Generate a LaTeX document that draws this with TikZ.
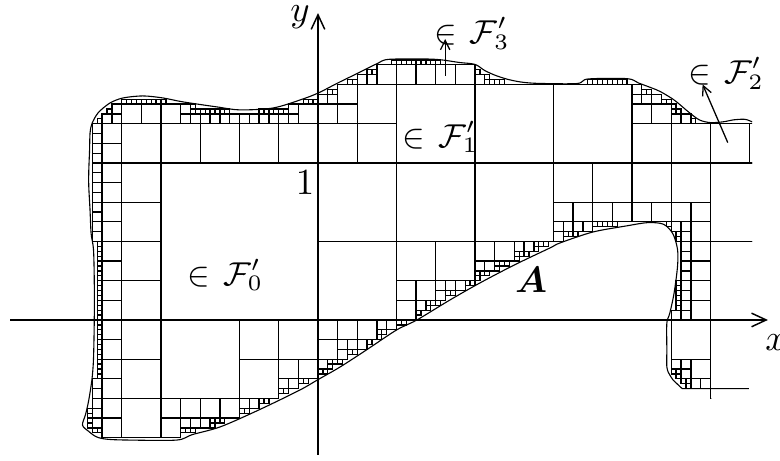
\documentclass[tikz,border=0pt]{standalone}
\usepackage{amsmath,amssymb,bm}
\usepackage{tikz}
\usetikzlibrary{arrows.meta}
\tikzset{
  cube/.style={line width=0.35pt,draw=black},
  rim/.style={line width=0.3pt,draw=black},
  axisline/.style={-{Straight Barb[length=1.4mm,width=1.3mm]},line width=0.4pt},
  pointer/.style={-{Straight Barb[length=0.9mm,width=0.9mm]},line width=0.35pt},
  lbl/.style={inner sep=0pt},
  famlbl/.style={inner sep=0pt,font=\small}
}
\makeatletter
% piecewise linear lookup: knots (x,y)(x,y)... sorted in x
\newdimen\plx \newdimen\ply
\let\pl@end\relax
\def\pl@gobble#1\pl@end{}
\def\pl@scan(#1,#2)(#3,#4){%
  \ifdim\plx>#3pt
    \def\pl@next{\pl@scan(#3,#4)}%
  \else
    \ply=\dimexpr#2pt+(#4pt-#2pt)*\number\dimexpr\plx-#1pt\relax/\number\dimexpr#3pt-#1pt\relax\relax
    \let\pl@next\pl@gobble
  \fi
  \pl@next}
\def\pleval#1#2{\plx=#2\relax\expandafter\pl@scan#1\pl@end}
% boundary of A: top T(x), left L(y), bottom B(x), hook H(y)
\def\Tknots{(-100,1.15)(-1.46,1.15)(-1.44,1.25)(-1.40,1.32)(-1.325,1.382)(-1.242,1.414)(-1.115,1.427)(-0.987,1.414)(-0.86,1.389)(-0.643,1.357)(-0.497,1.338)(-0.287,1.350)(-0.115,1.401)(0,1.445)(0.127,1.51)(0.25,1.57)(0.375,1.632)(0.45,1.66)(0.7,1.662)(0.8,1.655)(0.9,1.64)(1.0,1.628)(1.06,1.59)(1.125,1.56)(1.2,1.535)(1.29,1.516)(1.4,1.507)(1.65,1.506)(1.72,1.535)(1.97,1.537)(2.04,1.51)(2.12,1.48)(2.18,1.455)(2.27,1.40)(2.36,1.325)(2.43,1.274)(2.5,1.257)(2.58,1.262)(2.65,1.275)(2.72,1.278)(2.8,1.26)(100,1.26)}
\def\Lknots{(-100,-1.3)(-0.765,-1.3)(-0.76,-1.34)(-0.745,-1.41)(-0.71,-1.46)(-0.67,-1.50)(-0.60,-1.48)(-0.51,-1.46)(-0.38,-1.44)(-0.25,-1.43)(0.0,-1.425)(0.25,-1.425)(0.45,-1.43)(0.55,-1.445)(0.7,-1.452)(0.85,-1.46)(0.95,-1.46)(1.08,-1.455)(1.19,-1.452)(100,-1.452)}
\def\Bknots{(-100,-0.5)(-1.55,-0.6)(-1.50,-0.67)(-1.46,-0.71)(-1.41,-0.745)(-1.34,-0.76)(-1.2,-0.765)(-0.9,-0.765)(-0.80,-0.73)(-0.62,-0.68)(-0.37,-0.57)(-0.115,-0.446)(0,-0.38)(0.14,-0.30)(0.31,-0.19)(0.50,-0.064)(0.63,0.0)(0.84,0.127)(1.03,0.235)(1.25,0.35)(1.48,0.46)(1.54,0.49)(1.75,0.56)(1.97,0.60)(2.10,0.62)(2.20,0.61)(2.26,0.55)(2.29,0.45)(2.35,0.45)(100,0.45)}
\def\Hknots{(-100,2.35)(-0.5,2.35)(-0.4375,2.32)(-0.40,2.28)(-0.38,2.26)(-0.34,2.235)(-0.30,2.222)(-0.19,2.222)(-0.02,2.222)(0.04,2.24)(0.17,2.268)(0.34,2.29)(0.45,2.29)(0.55,2.26)(0.60,2.22)(0.62,2.1)(100,2.1)}
\newif\ifinA
\newdimen\qx \newdimen\qy
\def\testpt{%
  \inAtrue
  \pleval\Tknots\qx
  \ifdim\qy>\ply\inAfalse\fi
  \ifinA
    \pleval\Lknots\qy
    \ifdim\qx<\ply\inAfalse\fi
  \fi
  \ifinA
    \pleval\Bknots\qx
    \ifdim\qy<\ply
      \ifdim\qx<2.5pt \dimen@=-0.4375pt \else \dimen@=-0.5pt \fi
      \ifdim\qy<\dimen@
        \inAfalse
      \else
        \pleval\Hknots\qy
        \ifdim\qx<\ply\inAfalse\fi
      \fi
    \fi
  \fi}
% test the rim of a square, points 1/32 apart
\newcount\sqn \newcount\sqk \newcount\sqin \newcount\sqout
\newdimen\sqh
\def\sqcount{\testpt\ifinA\advance\sqin1 \else\advance\sqout1 \fi}
\def\testsq#1#2#3{%
  \sqn=\numexpr\dimexpr#3pt\relax/2048\relax
  \sqk=0 \sqin=0 \sqout=0
  \loop
    \sqh=\dimexpr2048sp*\sqk\relax
    \qx=\dimexpr#1pt+\sqh\relax \qy=#2pt \sqcount
    \qx=\dimexpr#1pt+#3pt\relax \qy=\dimexpr#2pt+\sqh\relax \sqcount
    \qx=\dimexpr#1pt+#3pt-\sqh\relax \qy=\dimexpr#2pt+#3pt\relax \sqcount
    \qx=#1pt \qy=\dimexpr#2pt+#3pt-\sqh\relax \sqcount
    \advance\sqk1
    \ifnum\sqin>0 \ifnum\sqout>0 \sqk=\sqn\fi\fi
  \ifnum\sqk<\sqn\repeat
  \ifnum\sqout=0 \def\sqstate{1}\else\ifnum\sqin=0 \def\sqstate{0}\else\def\sqstate{2}\fi\fi}
% maximal dyadic squares inside A
\def\mincube{0.03125}
\def\cell#1#2#3{%
  \testsq{#1}{#2}{#3}%
  \ifcase\sqstate\relax
    \let\cellnext\relax
  \or
    \def\cellnext{\draw[cube] (#1,#2) rectangle ++(#3,#3);}%
  \or
    \ifdim#3pt>\mincube pt
      \edef\ch{\strip@pt\dimexpr#3pt/2\relax}%
      \edef\cx{\strip@pt\dimexpr#1pt+\ch pt\relax}%
      \edef\cy{\strip@pt\dimexpr#2pt+\ch pt\relax}%
      \edef\cellnext{\noexpand\cell{#1}{#2}{\ch}\noexpand\cell{\cx}{#2}{\ch}\noexpand\cell{#1}{\cy}{\ch}\noexpand\cell{\cx}{\cy}{\ch}}%
    \else
      \let\cellnext\relax
    \fi
  \fi
  \cellnext}
\makeatother

\begin{document}
\begin{tikzpicture}[x=1.5cm,y=1.5cm]
\useasboundingbox (-2.0255,-0.898) rectangle (2.9427,2.038);
% cubes
\begin{scope}
\clip (-2.1,-0.44) rectangle (2.765,2.1) (-2.1,-1) rectangle (2.505,-0.44);
\foreach \i in {-2,...,2}{\foreach \j in {-1,0,1}{\edef\tmp{\noexpand\cell{\i}{\j}{1}}\tmp}}
\end{scope}
% boundary of A
\draw[rim] plot[smooth,tension=0.5] coordinates {(2.765,1.262) (2.72,1.278) (2.65,1.275) (2.58,1.262) (2.5,1.257) (2.43,1.274) (2.36,1.325) (2.27,1.40) (2.18,1.455) (2.12,1.48) (2.04,1.51) (1.97,1.537) (1.72,1.535) (1.65,1.506) (1.4,1.507) (1.29,1.516) (1.2,1.535) (1.125,1.56) (1.06,1.59) (1.0,1.628) (0.9,1.64) (0.8,1.655) (0.7,1.662) (0.45,1.66) (0.375,1.632) (0.25,1.57) (0.127,1.51) (0,1.445) (-0.115,1.401) (-0.287,1.350) (-0.497,1.338) (-0.643,1.357) (-0.86,1.389) (-0.987,1.414) (-1.115,1.427) (-1.242,1.414) (-1.325,1.382) (-1.40,1.32) (-1.44,1.25) (-1.452,1.19) (-1.455,1.08) (-1.46,0.95) (-1.46,0.85) (-1.452,0.7) (-1.445,0.55) (-1.43,0.45) (-1.425,0.25) (-1.425,0.0) (-1.43,-0.25) (-1.44,-0.38) (-1.46,-0.51) (-1.48,-0.60) (-1.50,-0.67) (-1.46,-0.71) (-1.41,-0.745) (-1.34,-0.76) (-1.2,-0.765) (-0.9,-0.765) (-0.80,-0.73) (-0.62,-0.68) (-0.37,-0.57) (-0.115,-0.446) (0,-0.38) (0.14,-0.30) (0.31,-0.19) (0.50,-0.064) (0.63,0.0) (0.84,0.127) (1.03,0.235) (1.25,0.35) (1.48,0.46) (1.54,0.49) (1.75,0.56) (1.97,0.60) (2.10,0.62) (2.20,0.61) (2.26,0.55) (2.29,0.45) (2.29,0.34) (2.268,0.17) (2.24,0.04) (2.222,-0.02) (2.222,-0.19) (2.222,-0.30) (2.235,-0.34) (2.26,-0.38) (2.28,-0.40) (2.32,-0.4375)} -- (2.745,-0.4375);
% axes
\coordinate (xstart) at (-1.96,0);
\coordinate (xend) at (2.866,0);
\coordinate (ystart) at (0,-0.86);
\coordinate (yend) at (0,1.955);
\draw[axisline] (xstart) -- (xend);
\draw[axisline] (ystart) -- (yend);
\node[lbl] (lblx) at (2.917,-0.146) {$x$};
\node[lbl] (lbly) at (-0.115,1.93) {$y$};
\node[lbl] (lblone) at (-0.083,0.873) {$1$};
% labels
\node[famlbl] (fzero) at (-0.59,0.287) {$\in\mskip2mu\mathcal{F}'_0$};
\node[famlbl] (fone) at (0.78,1.166) {$\in\mskip2mu\mathcal{F}'_1$};
\node[famlbl] (fthree) at (0.98,1.828) {$\in\mskip2mu\mathcal{F}'_3$};
\node[famlbl] (ftwo) at (2.60,1.573) {$\in\mskip2mu\mathcal{F}'_2$};
\node[lbl] (lblA) at (1.357,0.255) {$\bm{A}$};
\coordinate (f3tail) at (0.81,1.555);
\coordinate (f3head) at (0.81,1.79);
\coordinate (f2tail) at (2.61,1.13);
\coordinate (f2head) at (2.45,1.50);
\draw[pointer] (f3tail) -- (f3head);
\draw[pointer] (f2tail) -- (f2head);
\end{tikzpicture}
\end{document}
